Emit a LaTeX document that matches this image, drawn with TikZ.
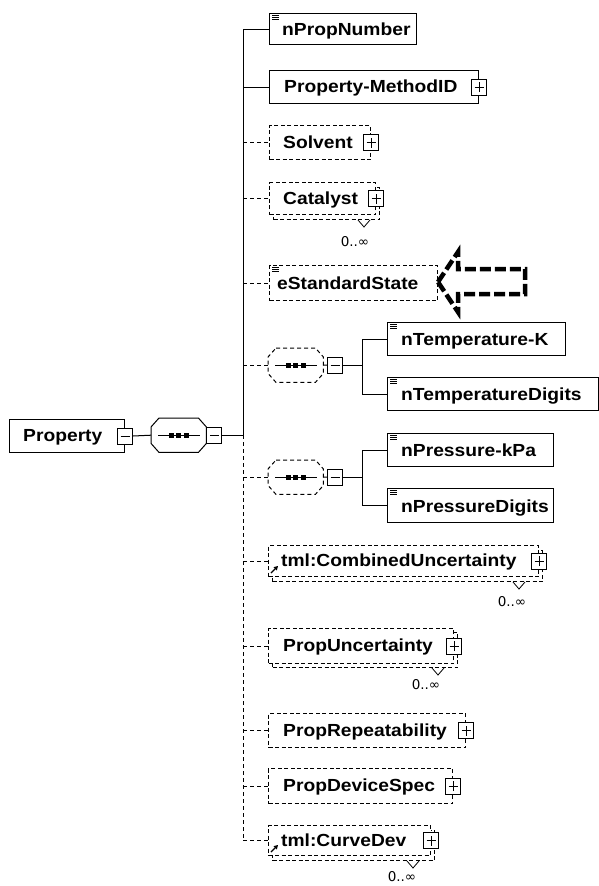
\documentclass[tikz,border=0pt]{standalone}
\usepackage{fontspec}
\newfontfamily\elemfont[FakeStretch=1.1]{Liberation Sans}
\newfontfamily\symfont{DejaVu Sans}
\usetikzlibrary{calc,arrows.meta}
\newcommand{\compositor}[2]{%
  \draw[#2, fill=white] ($(#1.north west)+(8,0)$) -- ($(#1.north east)+(-8,0)$) -- ($(#1.north east)+(0,9)$) -- ($(#1.south east)+(0,-9)$) -- ($(#1.south east)+(-8,0)$) -- ($(#1.south west)+(8,0)$) -- ($(#1.south west)+(0,-9)$) -- ($(#1.north west)+(0,9)$) -- cycle;
  \draw[line width=1pt] ($(#1.west)+(7,0)$) -- ($(#1.east)+(-6,0)$);
  \foreach \dx in {-7.5,0,7.5} {\fill ($(#1.center)+(\dx,0)+(-2.5,-2.5)$) rectangle ++(5,5);}
}
\newcommand{\docicon}[1]{%
  \foreach \dy in {2.5,4.5,6.5} {\draw[line width=0.8pt] ($(#1.north west)+(3,\dy)$) -- ++(7,0);}
}
\newcommand{\refarrow}[1]{%
  \draw[line width=1.2pt, -{Triangle[length=4pt,width=4.5pt]}] ($(#1.south west)+(3,-4)$) -- ($(#1.south west)+(10,-11)$);
}
\begin{document}
\begin{tikzpicture}[x=1pt,y=-1pt,
  box/.style={draw=black, line width=1pt, fill=white, inner sep=0pt, anchor=north west},
  obox/.style={box, dash pattern=on 4pt off 2.5pt},
  seqshape/.style={inner sep=0pt, anchor=north west, minimum width=55pt, minimum height=34pt},
  txt/.style={font=\elemfont\bfseries\fontsize{17.5}{20}\selectfont, inner sep=0pt, anchor=base west},
  pm/.style={draw=black, line width=1pt, fill=white, minimum width=15pt, minimum height=16pt, inner sep=0pt},
  plusbox/.style={pm, path picture={
     \draw[line width=1pt] ([xshift=-4.5pt]path picture bounding box.center) -- ([xshift=4.5pt]path picture bounding box.center);
     \draw[line width=1pt] ([yshift=-5pt]path picture bounding box.center) -- ([yshift=5pt]path picture bounding box.center);}},
  minusbox/.style={pm, path picture={
     \draw[line width=1pt] ([xshift=-4.5pt]path picture bounding box.center) -- ([xshift=4.5pt]path picture bounding box.center);}},
  conn/.style={line width=1pt},
  dconn/.style={line width=1pt, dash pattern=on 4pt off 3pt},
  dseq/.style={line width=1pt, dash pattern=on 4pt off 3pt},
  mult/.style={font=\symfont\fontsize{13.5}{15}\selectfont, inner sep=0pt},
  notch/.style={line width=0.8pt}
]
\useasboundingbox (0,0) rectangle (599,886);
\fill[white] (0,0) rectangle (599,886);

% ---------- root ----------
\node[box, minimum width=115pt, minimum height=33pt] (root) at (9,419) {};
\node[txt] (root-t) at ([xshift=14pt,yshift=-5pt]root.west) {Property};
\node[minusbox] (root-m) at (root.east) {};
\node[seqshape] (rseq) at (151,418) {};
\compositor{rseq}{line width=1pt}
\node[minusbox, anchor=west] (rseq-m) at (rseq.east) {};
\draw[conn] (root-m.east) -- (rseq.west);

% trunk coordinates
\coordinate (tTop) at (243,29);
\coordinate (tJoin) at (rseq-m.east -| tTop);

% ---------- children ----------
\node[box, minimum width=147pt, minimum height=31pt] (nprop) at (269,13) {};
\node[txt] (nprop-t) at ([xshift=13pt,yshift=-6.5pt]nprop.west) {nPropNumber};
\docicon{nprop}

\node[box, minimum width=209pt, minimum height=33pt] (pmid) at (269,70) {};
\node[txt] (pmid-t) at ([xshift=15pt,yshift=-5pt]pmid.west) {Property-MethodID};
\node[plusbox] (pmid-p) at (pmid.east) {};

\node[obox, minimum width=101pt, minimum height=34pt] (solv) at (269,125) {};
\node[txt] (solv-t) at ([xshift=14pt,yshift=-5.5pt]solv.west) {Solvent};
\node[plusbox] (solv-p) at (solv.east) {};

\node[obox, minimum width=106pt, minimum height=32pt] (cat-s) at (273,187) {};
\node[obox, minimum width=106pt, minimum height=32pt] (cat) at (269,182) {};
\node[txt] (cat-t) at ([xshift=14pt,yshift=-5.5pt]cat.west) {Catalyst};
\node[plusbox] (cat-p) at (cat.east) {};
\draw[notch] ($(cat-s.south east)+(-22,0)$) -- ($(cat-s.south east)+(-16,7)$) -- ($(cat-s.south east)+(-10,0)$);
\node[mult] (cat-m) at (355,242) {0..∞};

\node[obox, minimum width=168pt, minimum height=35pt] (estd) at (269,265) {};
\node[txt] (estd-t) at ([xshift=8pt,yshift=-6pt]estd.west) {eStandardState};
\docicon{estd}
\draw[line width=4.5pt, dash pattern=on 11pt off 4pt, fill=white, line join=miter]
  (438,282) -- (458,252) -- (458,269) -- (525,269) -- (525,294) -- (458,294) -- (458,312) -- cycle;

% sequence 1
\node[seqshape] (s1) at (268,348) {};
\compositor{s1}{dseq}
\node[minusbox] (s1-m) at (335,365) {};
\draw[conn] (s1.east) -- (s1-m.west);
\coordinate (b1) at (362,365);
\node[box, minimum width=178pt, minimum height=33pt] (tK) at (387,322) {};
\node[txt] (tK-t) at ([xshift=14pt,yshift=-6.5pt]tK.west) {nTemperature-K};
\docicon{tK}
\node[box, minimum width=211pt, minimum height=33pt] (tD) at (387,377) {};
\node[txt] (tD-t) at ([xshift=14pt,yshift=-6.5pt]tD.west) {nTemperatureDigits};
\docicon{tD}
\draw[conn] (s1-m.east) -- (b1);
\draw[conn] (tK.west -| b1) -- (tD.west -| b1);
\draw[conn] (tK.west -| b1) -- (tK.west);
\draw[conn] (tD.west -| b1) -- (tD.west);

% sequence 2
\node[seqshape] (s2) at (268,460) {};
\compositor{s2}{dseq}
\node[minusbox] (s2-m) at (335,477) {};
\draw[conn] (s2.east) -- (s2-m.west);
\coordinate (b2) at (362,477);
\node[box, minimum width=166pt, minimum height=33pt] (pK) at (387,433) {};
\node[txt] (pK-t) at ([xshift=14pt,yshift=-6.5pt]pK.west) {nPressure-kPa};
\docicon{pK}
\node[box, minimum width=166pt, minimum height=34pt] (pD) at (387,488) {};
\node[txt] (pD-t) at ([xshift=14pt,yshift=-6.5pt]pD.west) {nPressureDigits};
\docicon{pD}
\draw[conn] (s2-m.east) -- (b2);
\draw[conn] (pK.west -| b2) -- (pD.west -| b2);
\draw[conn] (pK.west -| b2) -- (pK.west);
\draw[conn] (pD.west -| b2) -- (pD.west);

% combined uncertainty
\node[obox, minimum width=270pt, minimum height=31pt] (cu-s) at (272,550) {};
\node[obox, minimum width=270pt, minimum height=31pt] (cu) at (268,545) {};
\node[txt] (cu-t) at ([xshift=13pt,yshift=-5.5pt]cu.west) {tml:CombinedUncertainty};
\refarrow{cu}
\node[plusbox] (cu-p) at (cu.east) {};
\draw[notch] ($(cu-s.south east)+(-30,0)$) -- ($(cu-s.south east)+(-24,7)$) -- ($(cu-s.south east)+(-18,0)$);
\node[mult] (cu-m) at (512,602) {0..∞};

% prop uncertainty
\node[obox, minimum width=185pt, minimum height=35pt] (pu-s) at (272,632) {};
\node[obox, minimum width=185pt, minimum height=35pt] (pu) at (268,628) {};
\node[txt] (pu-t) at ([xshift=15pt,yshift=-5.5pt]pu.west) {PropUncertainty};
\node[plusbox] (pu-p) at (pu.east) {};
\draw[notch] ($(pu-s.south east)+(-26,0)$) -- ($(pu-s.south east)+(-20,7)$) -- ($(pu-s.south east)+(-14,0)$);
\node[mult] (pu-m) at (426,685) {0..∞};

% prop repeatability
\node[obox, minimum width=197pt, minimum height=34pt] (pr) at (268,713) {};
\node[txt] (pr-t) at ([xshift=15pt,yshift=-5.5pt]pr.west) {PropRepeatability};
\node[plusbox] (pr-p) at (pr.east) {};

% prop device spec
\node[obox, minimum width=184pt, minimum height=35pt] (pds) at (268,768) {};
\node[txt] (pds-t) at ([xshift=15pt,yshift=-5.5pt]pds.west) {PropDeviceSpec};
\node[plusbox] (pds-p) at (pds.east) {};

% curve dev
\node[obox, minimum width=162pt, minimum height=30pt] (cd-s) at (272,830) {};
\node[obox, minimum width=162pt, minimum height=30pt] (cd) at (268,825) {};
\node[txt] (cd-t) at ([xshift=13pt,yshift=-6pt]cd.west) {tml:CurveDev};
\refarrow{cd}
\node[plusbox] (cd-p) at (cd.east) {};
\draw[notch] ($(cd-s.south east)+(-28,0)$) -- ($(cd-s.south east)+(-22,7)$) -- ($(cd-s.south east)+(-16,0)$);
\node[mult] (cd-m) at (402,877) {0..∞};

% ---------- trunk and connectors ----------
\draw[conn] (rseq-m.east) -- (tJoin);
\draw[conn] (tTop) -- (tJoin);
\draw[dconn] (tJoin) -- (cd.west -| tTop);
\draw[conn] (nprop.west -| tTop) -- (nprop.west);
\draw[conn] (pmid.west -| tTop) -- (pmid.west);
\draw[dconn] (solv.west -| tTop) -- (solv.west);
\draw[dconn] (cat.west -| tTop) -- (cat.west);
\draw[dconn] (estd.west -| tTop) -- (estd.west);
\draw[dconn] (s1.west -| tTop) -- (s1.west);
\draw[dconn] (s2.west -| tTop) -- (s2.west);
\draw[dconn] (cu.west -| tTop) -- (cu.west);
\draw[dconn] (pu.west -| tTop) -- (pu.west);
\draw[dconn] (pr.west -| tTop) -- (pr.west);
\draw[dconn] (pds.west -| tTop) -- (pds.west);
\draw[dconn] (cd.west -| tTop) -- (cd.west);
\end{tikzpicture}
\end{document}
